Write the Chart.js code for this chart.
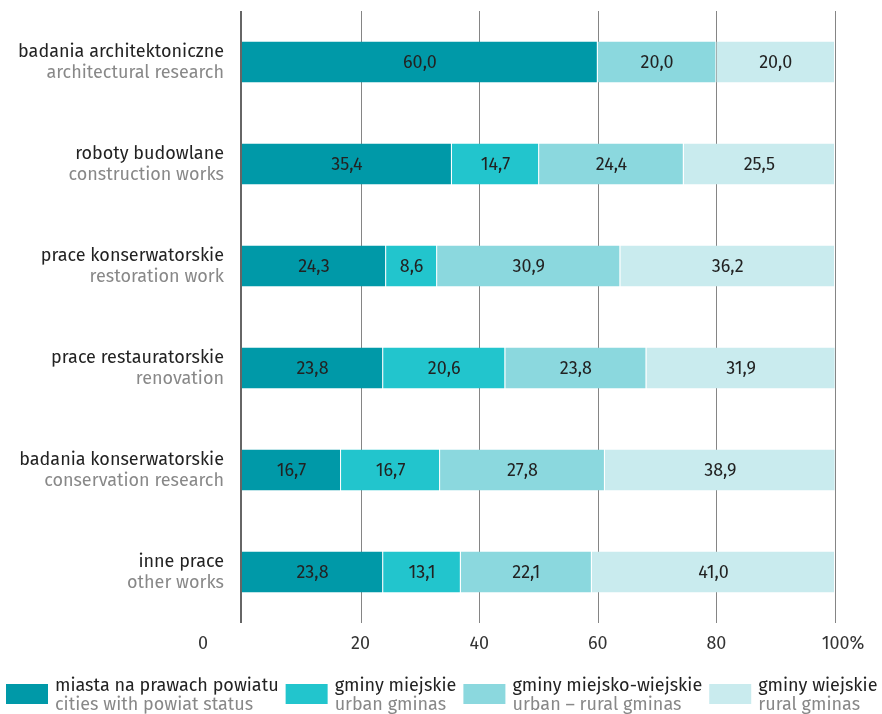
<!DOCTYPE html>
<html>
<head>
<meta charset="utf-8">
<script src="https://cdn.jsdelivr.net/npm/chart.js@4/dist/chart.umd.min.js"></script>
<style>
  html, body { margin: 0; padding: 0; background: #fff; }
  #wrap { width: 882px; height: 714px; }
</style>
</head>
<body>
<div id="wrap"><canvas id="canvas" width="882" height="714"></canvas></div>
<script>
// category labels: polish name + english name
var kategorie = [
    "badania architektoniczne", "roboty budowlane", "prace konserwatorskie",
    "prace restauratorskie", "badania konserwatorskie", "inne prace"
];
var kategorieEn = [
    "architectural research", "construction works", "restoration work",
    "renovation", "conservation research", "other works"
];

// shares in % per type of local authority
var miastaNaPrawachPowiatu = [60.0, 35.4, 24.3, 23.8, 16.7, 23.8];
var gminyMiejskie          = [0,    14.7,  8.6, 20.6, 16.7, 13.1];
var gminyMiejskoWiejskie   = [20.0, 24.4, 30.9, 23.8, 27.8, 22.1];
var gminyWiejskie          = [20.0, 25.5, 36.2, 31.9, 38.9, 41.0];

var serie = ["miasta na prawach powiatu", "gminy miejskie", "gminy miejsko-wiejskie", "gminy wiejskie"];
var serieEn = ["cities with powiat status", "urban gminas", "urban \u2013 rural gminas", "rural gminas"];

var ticksX = [0, 20, 40, 60, 80, 100];

var kolory = ['#0099a8', '#22c5cd', '#8bd8de', '#c9ebee'];
var FONT = '"Fira Sans", "Open Sans", sans-serif';

function fmt(v) {
    return v.toFixed(1).replace('.', ',');
}

// gridlines behind the bars
var siatka = {
    id: 'siatka',
    beforeDatasetsDraw: function (chart) {
        var ctx = chart.ctx, x = chart.scales.x, a = chart.chartArea;
        ctx.save();
        ticksX.forEach(function (t) {
            var px = Math.round(x.getPixelForValue(t));
            ctx.beginPath();
            if (t === 0) {
                ctx.strokeStyle = '#666';
                ctx.lineWidth = 2;
                ctx.moveTo(px - 1, a.top);
                ctx.lineTo(px - 1, a.bottom);
            } else {
                ctx.strokeStyle = '#858585';
                ctx.lineWidth = 1;
                ctx.moveTo(px + 0.5, a.top);
                ctx.lineTo(px + 0.5, a.bottom);
            }
            ctx.stroke();
        });
        ctx.restore();
    }
};

// values inside the segments, category labels, tick labels, legend
var opisy = {
    id: 'opisy',
    afterDatasetsDraw: function (chart) {
        var ctx = chart.ctx;
        ctx.save();
        ctx.font = '18px ' + FONT;
        ctx.fillStyle = '#222';
        ctx.textAlign = 'center';
        ctx.textBaseline = 'middle';
        chart.data.datasets.forEach(function (ds, i) {
            chart.getDatasetMeta(i).data.forEach(function (el, j) {
                var v = ds.data[j];
                if (!v) return;
                ctx.fillText(fmt(v), (el.x + el.base) / 2, el.y + 1);
            });
        });

        // category labels on the left
        var y = chart.scales.y;
        ctx.textAlign = 'right';
        kategorie.forEach(function (k, j) {
            var py = y.getPixelForValue(j);
            ctx.fillStyle = '#222';
            ctx.fillText(k, 224, py - 10);
            ctx.fillStyle = '#888';
            ctx.fillText(kategorieEn[j], 224, py + 11);
        });

        // x tick labels
        var x = chart.scales.x;
        ctx.fillStyle = '#333';
        ctx.textAlign = 'center';
        ticksX.forEach(function (t) {
            var px = x.getPixelForValue(t);
            if (t === 0) {
                ctx.fillText('0', px - 39, 644);
            } else if (t === 100) {
                ctx.fillText(t + '%', px + 8, 644);
            } else {
                ctx.fillText(String(t), px, 644);
            }
        });

        // legend
        var lx = 6;
        serie.forEach(function (s, i) {
            ctx.fillStyle = kolory[i];
            ctx.fillRect(lx, 684, 42, 20);
            var tx = lx + 49;
            ctx.textAlign = 'left';
            ctx.fillStyle = '#222';
            ctx.fillText(s, tx, 686);
            ctx.fillStyle = '#888';
            ctx.fillText(serieEn[i], tx, 705);
            var w = Math.max(ctx.measureText(s).width, ctx.measureText(serieEn[i]).width);
            lx = tx + w + 7;
        });
        ctx.restore();
    }
};

var danePakiety = [miastaNaPrawachPowiatu, gminyMiejskie, gminyMiejskoWiejskie, gminyWiejskie];

var config = {
    type: 'bar',
    data: {
        labels: kategorie,
        datasets: danePakiety.map(function (d, i) {
            return {
                label: serie[i],
                data: d,
                backgroundColor: kolory[i],
                // thin light seam at the end of each segment
                borderColor: 'rgba(255,255,255,0.45)',
                borderWidth: { top: 0, bottom: 0, left: 0, right: 1 },
                borderSkipped: false,
                barPercentage: 0.8,
                categoryPercentage: 0.5
            };
        })
    },
    options: {
        indexAxis: 'y',
        responsive: false,
        animation: false,
        layout: { padding: { left: 242, right: 47, top: 11, bottom: 91 } },
        scales: {
            x: { stacked: true, min: 0, max: 100, display: false },
            y: { stacked: true, display: false }
        },
        plugins: {
            legend: { display: false },
            tooltip: { enabled: false }
        }
    },
    plugins: [siatka, opisy]
};

window.wykres = new Chart(document.getElementById("canvas"), config);
</script>
</body>
</html>
